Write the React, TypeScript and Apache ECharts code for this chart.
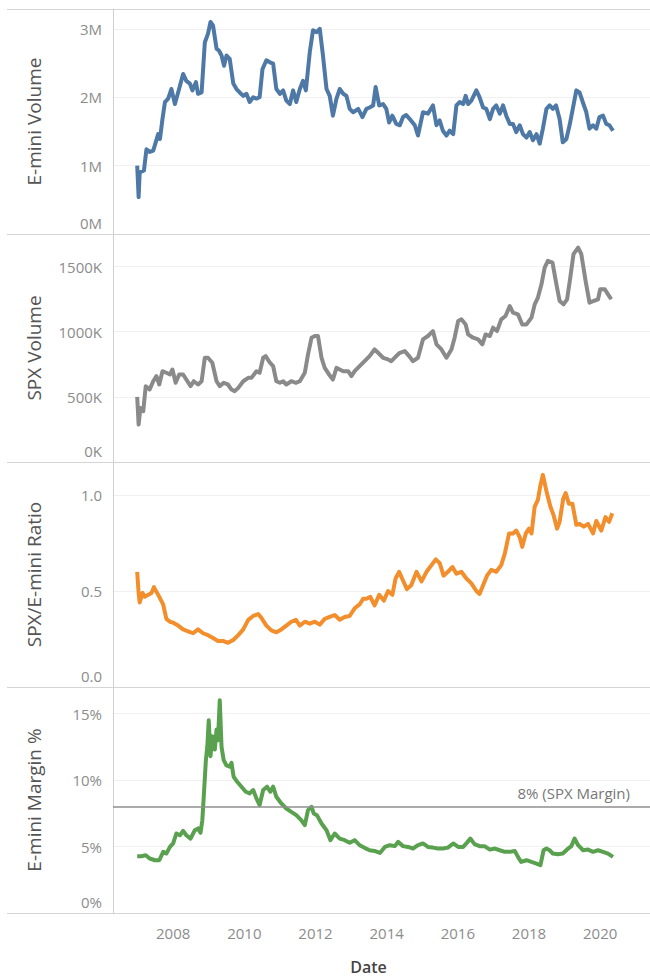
import React, { useEffect, useRef } from "react";
import * as echarts from "echarts";

// [decimal year, value]
const eminiVolumeM: [number, number][] = [
  [2006.99, 1.0], [2007.03, 0.54], [2007.06, 0.9], [2007.18, 0.93], [2007.25, 1.24], [2007.34, 1.2], [2007.44, 1.22],
  [2007.51, 1.34], [2007.58, 1.46], [2007.63, 1.39], [2007.7, 1.68], [2007.77, 1.93], [2007.86, 1.98], [2007.95, 2.12],
  [2008.05, 1.9], [2008.14, 2.07], [2008.28, 2.34], [2008.37, 2.24], [2008.47, 2.2], [2008.54, 2.1], [2008.64, 2.22],
  [2008.7, 2.05], [2008.8, 2.07], [2008.89, 2.8], [2008.98, 2.93], [2009.05, 3.1], [2009.12, 3.05], [2009.22, 2.71],
  [2009.29, 2.68], [2009.36, 2.61], [2009.43, 2.46], [2009.5, 2.61], [2009.59, 2.56], [2009.69, 2.2], [2009.78, 2.12],
  [2009.87, 2.07], [2009.97, 2.02], [2010.06, 2.05], [2010.15, 1.93], [2010.25, 2.0], [2010.34, 1.98], [2010.43, 2.0],
  [2010.51, 2.41], [2010.62, 2.54], [2010.72, 2.51], [2010.81, 2.49], [2010.9, 2.12], [2011.0, 2.05], [2011.09, 2.1],
  [2011.18, 1.95], [2011.28, 1.9], [2011.37, 2.1], [2011.46, 1.93], [2011.56, 2.12], [2011.65, 2.24], [2011.73, 2.1],
  [2011.84, 2.66], [2011.93, 2.98], [2012.03, 2.95], [2012.12, 3.0], [2012.21, 2.61], [2012.31, 2.12], [2012.4, 2.02],
  [2012.49, 1.73], [2012.59, 1.98], [2012.68, 2.12], [2012.78, 2.05], [2012.87, 2.02], [2012.96, 1.83], [2013.06, 1.78],
  [2013.2, 1.83], [2013.32, 1.71], [2013.43, 1.83], [2013.52, 1.85], [2013.62, 1.88], [2013.69, 2.15], [2013.79, 1.88],
  [2013.9, 1.9], [2013.99, 1.83], [2014.07, 1.63], [2014.16, 1.73], [2014.27, 1.61], [2014.37, 1.59], [2014.46, 1.71],
  [2014.55, 1.74], [2014.65, 1.68], [2014.79, 1.59], [2014.88, 1.44], [2015.02, 1.78], [2015.16, 1.76], [2015.3, 1.88],
  [2015.4, 1.59], [2015.49, 1.66], [2015.58, 1.51], [2015.68, 1.44], [2015.77, 1.51], [2015.87, 1.46], [2015.96, 1.88],
  [2016.05, 1.93], [2016.15, 1.9], [2016.22, 2.02], [2016.29, 1.9], [2016.38, 1.95], [2016.52, 2.1], [2016.61, 2.0],
  [2016.71, 1.85], [2016.8, 1.83], [2016.9, 1.68], [2016.99, 1.83], [2017.08, 1.88], [2017.18, 1.76], [2017.27, 1.88],
  [2017.36, 1.73], [2017.46, 1.61], [2017.55, 1.61], [2017.64, 1.49], [2017.74, 1.59], [2017.83, 1.46], [2017.93, 1.41],
  [2018.02, 1.49], [2018.11, 1.37], [2018.21, 1.46], [2018.3, 1.32], [2018.39, 1.54], [2018.49, 1.83], [2018.58, 1.88],
  [2018.67, 1.83], [2018.76, 1.88], [2018.86, 1.68], [2018.95, 1.34], [2019.05, 1.39], [2019.14, 1.59], [2019.23, 1.83],
  [2019.33, 2.1], [2019.42, 2.07], [2019.51, 1.93], [2019.61, 1.78], [2019.7, 1.54], [2019.8, 1.59], [2019.89, 1.54],
  [2019.98, 1.71], [2020.08, 1.73], [2020.17, 1.61], [2020.26, 1.59], [2020.36, 1.51],
];

const spxVolumeK: [number, number][] = [
  [2006.99, 500], [2007.03, 287], [2007.08, 415], [2007.16, 390], [2007.23, 582], [2007.34, 556], [2007.44, 620],
  [2007.53, 659], [2007.61, 595], [2007.7, 697], [2007.81, 685], [2007.91, 672], [2007.98, 710], [2008.07, 608],
  [2008.17, 672], [2008.28, 672], [2008.37, 633], [2008.49, 582], [2008.58, 620], [2008.7, 595], [2008.8, 620],
  [2008.89, 800], [2008.98, 800], [2009.1, 762], [2009.22, 620], [2009.31, 582], [2009.42, 608], [2009.54, 595],
  [2009.64, 556], [2009.73, 544], [2009.83, 569], [2009.97, 620], [2010.11, 646], [2010.2, 646], [2010.34, 697],
  [2010.43, 685], [2010.53, 800], [2010.6, 813], [2010.72, 762], [2010.81, 736], [2010.9, 620], [2011.0, 608],
  [2011.09, 620], [2011.18, 595], [2011.32, 620], [2011.45, 608], [2011.56, 620], [2011.7, 685], [2011.79, 826],
  [2011.89, 954], [2011.98, 967], [2012.07, 967], [2012.17, 800], [2012.26, 723], [2012.38, 672], [2012.49, 633],
  [2012.59, 723], [2012.68, 710], [2012.78, 697], [2012.92, 697], [2013.01, 659], [2013.1, 697], [2013.24, 736],
  [2013.38, 774], [2013.52, 813], [2013.66, 864], [2013.76, 838], [2013.9, 800], [2014.04, 787], [2014.13, 774],
  [2014.27, 813], [2014.37, 838], [2014.51, 851], [2014.63, 813], [2014.74, 774], [2014.88, 800], [2015.02, 941],
  [2015.16, 967], [2015.3, 1005], [2015.4, 903], [2015.54, 864], [2015.68, 800], [2015.82, 864], [2015.91, 954],
  [2016.01, 1082], [2016.1, 1095], [2016.22, 1056], [2016.29, 979], [2016.43, 954], [2016.57, 941], [2016.69, 903],
  [2016.78, 979], [2016.9, 967], [2016.99, 1031], [2017.1, 1005], [2017.22, 1095], [2017.34, 1121], [2017.46, 1197],
  [2017.55, 1146], [2017.69, 1133], [2017.81, 1056], [2017.93, 1056], [2018.07, 1108], [2018.16, 1210], [2018.25, 1262],
  [2018.35, 1364], [2018.44, 1492], [2018.53, 1544], [2018.66, 1531], [2018.77, 1364], [2018.86, 1236], [2018.97, 1210],
  [2019.07, 1249], [2019.16, 1415], [2019.25, 1595], [2019.38, 1646], [2019.47, 1595], [2019.59, 1390], [2019.7, 1223],
  [2019.82, 1236], [2019.94, 1249], [2020.0, 1326], [2020.13, 1326], [2020.22, 1287], [2020.31, 1249],
];

const ratio: [number, number][] = [
  [2006.99, 0.6], [2007.03, 0.49], [2007.06, 0.44], [2007.14, 0.49], [2007.2, 0.47], [2007.3, 0.48], [2007.39, 0.49],
  [2007.46, 0.52], [2007.58, 0.48], [2007.72, 0.43], [2007.81, 0.355], [2007.91, 0.34], [2008.0, 0.335], [2008.14, 0.32],
  [2008.28, 0.3], [2008.42, 0.29], [2008.56, 0.28], [2008.7, 0.3], [2008.84, 0.28], [2008.98, 0.27], [2009.12, 0.255],
  [2009.26, 0.24], [2009.4, 0.24], [2009.54, 0.23], [2009.69, 0.245], [2009.83, 0.27], [2009.97, 0.3], [2010.11, 0.35],
  [2010.25, 0.37], [2010.39, 0.38], [2010.48, 0.36], [2010.62, 0.32], [2010.76, 0.295], [2010.9, 0.285], [2011.04, 0.3],
  [2011.18, 0.32], [2011.32, 0.34], [2011.45, 0.35], [2011.56, 0.32], [2011.7, 0.34], [2011.84, 0.33], [2011.98, 0.34],
  [2012.12, 0.325], [2012.26, 0.355], [2012.4, 0.365], [2012.54, 0.375], [2012.68, 0.35], [2012.82, 0.365], [2012.96, 0.37],
  [2013.1, 0.41], [2013.24, 0.43], [2013.34, 0.46], [2013.43, 0.46], [2013.54, 0.47], [2013.66, 0.425], [2013.79, 0.48],
  [2013.92, 0.45], [2014.04, 0.5], [2014.16, 0.48], [2014.25, 0.565], [2014.35, 0.6], [2014.46, 0.555], [2014.57, 0.51],
  [2014.69, 0.53], [2014.84, 0.6], [2014.98, 0.55], [2015.12, 0.6], [2015.26, 0.635], [2015.38, 0.665], [2015.49, 0.645],
  [2015.6, 0.58], [2015.72, 0.6], [2015.85, 0.625], [2015.96, 0.59], [2016.1, 0.6], [2016.24, 0.565], [2016.38, 0.54],
  [2016.52, 0.5], [2016.61, 0.485], [2016.71, 0.53], [2016.82, 0.58], [2016.94, 0.61], [2017.08, 0.6], [2017.22, 0.635],
  [2017.32, 0.695], [2017.44, 0.8], [2017.55, 0.8], [2017.64, 0.815], [2017.74, 0.78], [2017.81, 0.73], [2017.91, 0.8],
  [2018.0, 0.825], [2018.07, 0.8], [2018.16, 0.94], [2018.25, 0.975], [2018.32, 1.05], [2018.39, 1.105], [2018.49, 1.02],
  [2018.6, 0.94], [2018.69, 0.895], [2018.79, 0.825], [2018.86, 0.86], [2018.96, 0.98], [2019.03, 1.01], [2019.12, 0.955],
  [2019.22, 0.955], [2019.33, 0.845], [2019.42, 0.85], [2019.54, 0.835], [2019.66, 0.85], [2019.8, 0.8], [2019.89, 0.865],
  [2020.03, 0.815], [2020.15, 0.885], [2020.25, 0.86], [2020.34, 0.905],
];

const marginPct: [number, number][] = [
  [2006.99, 4.27], [2007.11, 4.27], [2007.23, 4.35], [2007.34, 4.1], [2007.49, 3.97], [2007.61, 3.97], [2007.72, 4.6],
  [2007.81, 4.47], [2007.91, 4.97], [2008.0, 5.23], [2008.09, 5.98], [2008.19, 5.85], [2008.28, 6.18], [2008.37, 5.85],
  [2008.49, 5.6], [2008.61, 6.23], [2008.7, 6.36], [2008.77, 6.03], [2008.82, 6.98], [2008.86, 8.74], [2008.92, 11.5],
  [2008.96, 12.5], [2009.0, 14.5], [2009.05, 11.8], [2009.1, 13.3], [2009.17, 12.3], [2009.22, 13.8], [2009.26, 13.0],
  [2009.31, 16.0], [2009.36, 12.5], [2009.42, 11.5], [2009.5, 11.1], [2009.59, 11.0], [2009.64, 11.3], [2009.7, 10.25],
  [2009.8, 9.87], [2009.92, 9.5], [2010.04, 9.12], [2010.15, 9.0], [2010.25, 9.25], [2010.34, 8.62], [2010.43, 8.12],
  [2010.53, 9.25], [2010.64, 9.5], [2010.73, 9.12], [2010.81, 9.5], [2010.9, 8.74], [2011.04, 8.24], [2011.18, 7.86],
  [2011.32, 7.61], [2011.46, 7.36], [2011.6, 6.98], [2011.7, 6.61], [2011.79, 7.74], [2011.89, 7.99], [2011.95, 7.49],
  [2012.04, 7.36], [2012.17, 6.73], [2012.31, 6.23], [2012.42, 5.48], [2012.54, 5.98], [2012.68, 5.6], [2012.82, 5.48],
  [2012.96, 5.28], [2013.1, 5.48], [2013.24, 5.1], [2013.38, 4.9], [2013.52, 4.72], [2013.66, 4.67], [2013.81, 4.52],
  [2013.95, 4.97], [2014.09, 5.1], [2014.23, 5.03], [2014.32, 5.35], [2014.46, 5.03], [2014.6, 4.97], [2014.74, 4.85],
  [2014.88, 5.1], [2015.02, 5.23], [2015.16, 4.97], [2015.3, 4.92], [2015.44, 4.85], [2015.58, 4.85], [2015.72, 4.92],
  [2015.87, 5.23], [2016.01, 4.97], [2016.15, 4.97], [2016.24, 5.23], [2016.35, 5.6], [2016.47, 5.18], [2016.61, 5.03],
  [2016.75, 5.03], [2016.9, 4.77], [2017.04, 4.85], [2017.18, 4.72], [2017.32, 4.6], [2017.46, 4.6], [2017.6, 4.67],
  [2017.69, 4.22], [2017.78, 3.84], [2017.93, 3.97], [2018.07, 3.84], [2018.21, 3.72], [2018.32, 3.59], [2018.41, 4.72],
  [2018.49, 4.85], [2018.58, 4.72], [2018.67, 4.47], [2018.81, 4.42], [2018.95, 4.47], [2019.1, 4.85], [2019.19, 5.03],
  [2019.28, 5.6], [2019.38, 5.1], [2019.52, 4.72], [2019.66, 4.77], [2019.8, 4.6], [2019.94, 4.72], [2020.08, 4.6],
  [2020.22, 4.47], [2020.36, 4.22],
];

const spxMarginLevel = 8;
const spxMarginLabel = "8% (SPX Margin)";

const panelTitles = ["E-mini Volume", "SPX Volume", "SPX/E-mini Ratio", "E-mini Margin %"];
const panelColors = ["#4e79a7", "#8a8a8a", "#f28e2b", "#59a14f"];
const panelMax = [3.29, 1750, 1.172, 17.0];
const panelInterval = [1, 500, 0.5, 5];
const panelUnits = ["M", "K", "", "%"];
const xMin = 2006.31;
const xMax = 2021.4;

const FONT = "'Open Sans', 'Noto Sans', sans-serif";
const TICK_COLOR = "#8c8c8c";

export default function App() {
  const ref = useRef<HTMLDivElement>(null);

  useEffect(() => {
    document.body.style.margin = "0";
    if (!ref.current) return;
    const chart = echarts.init(ref.current, undefined, { renderer: "svg" });

    const tops = [9, 234, 462, 687];
    const bottoms = [234, 462, 687, 913];
    const seriesData = [eminiVolumeM, spxVolumeK, ratio, marginPct];

    const grids = tops.map((t, i) => ({
      left: 113,
      right: 0,
      top: t,
      height: bottoms[i] - t,
    }));

    const fmt = (i: number) => (v: number) => {
      let s: string;
      if (i === 2) s = v.toFixed(1);
      else s = `${Math.round(v)}${panelUnits[i]}`;
      return v === 0 ? `{z|${s}}` : s;
    };

    const xAxes = tops.map((_, i) => ({
      type: "value",
      gridIndex: i,
      min: xMin,
      max: xMax,
      splitNumber: 7,
      minInterval: 2,
      maxInterval: 2,
      axisLine: { show: false },
      axisTick: { show: false },
      splitLine: { show: false },
      axisLabel: {
        show: i === 3,
        showMinLabel: false,
        showMaxLabel: false,
        formatter: (v: number) => (Number.isInteger(v) ? String(v) : ""),
        color: TICK_COLOR,
        fontFamily: FONT,
        fontSize: 15,
        margin: 12,
      },
      name: i === 3 ? "Date" : "",
      nameLocation: "middle",
      nameGap: 46,
      nameTextStyle: {
        color: "#444",
        fontFamily: FONT,
        fontSize: 16,
        fontWeight: 600,
        padding: [0, 26, 0, 0],
      },
    }));

    const yAxes = tops.map((_, i) => ({
      type: "value",
      gridIndex: i,
      min: 0,
      max: panelMax[i],
      interval: panelInterval[i],
      axisLine: { show: true, lineStyle: { color: "#d0d0d0", width: 1 } },
      axisTick: { show: false },
      splitLine: { show: true, lineStyle: { color: "#f0f0f0", width: 1 } },
      axisLabel: {
        showMaxLabel: false,
        formatter: fmt(i),
        color: TICK_COLOR,
        fontFamily: FONT,
        fontSize: 15,
        margin: 11,
        rich: {
          z: { padding: [0, 0, 22, 0], color: TICK_COLOR, fontFamily: FONT, fontSize: 15 },
        },
      },
      name: panelTitles[i],
      nameLocation: "middle",
      nameRotate: 90,
      nameGap: 70,
      nameTextStyle: { color: "#555", fontFamily: FONT, fontSize: 19 },
    }));

    const series: any[] = seriesData.map((d, i) => ({
      type: "line",
      xAxisIndex: i,
      yAxisIndex: i,
      data: d,
      showSymbol: false,
      symbol: "none",
      lineStyle: { color: panelColors[i], width: 4, join: "round" },
      itemStyle: { color: panelColors[i] },
      z: 2,
    }));

    series[3].markLine = {
      silent: true,
      symbol: "none",
      z: 5,
      lineStyle: { color: "#8f8f8f", width: 1.5, type: "solid" },
      label: {
        show: true,
        position: "insideEndTop",
        formatter: spxMarginLabel,
        color: "#777",
        fontFamily: FONT,
        fontSize: 15,
        distance: [20, 6],
      },
      data: [{ yAxis: spxMarginLevel }],
    };

    const sepYs = [9, 234, 462, 687, 913];
    const graphic = sepYs.map((y) => ({
      type: "line",
      shape: { x1: 7, y1: y + 0.5, x2: 650, y2: y + 0.5 },
      style: { stroke: "#d4d4d4", lineWidth: 1 },
      silent: true,
      z: 10,
    }));

    chart.setOption({
      animation: false,
      backgroundColor: "#ffffff",
      grid: grids,
      xAxis: xAxes,
      yAxis: yAxes,
      series,
      graphic,
    });

    return () => chart.dispose();
  }, []);

  return <div ref={ref} style={{ width: 650, height: 977 }} />;
}
